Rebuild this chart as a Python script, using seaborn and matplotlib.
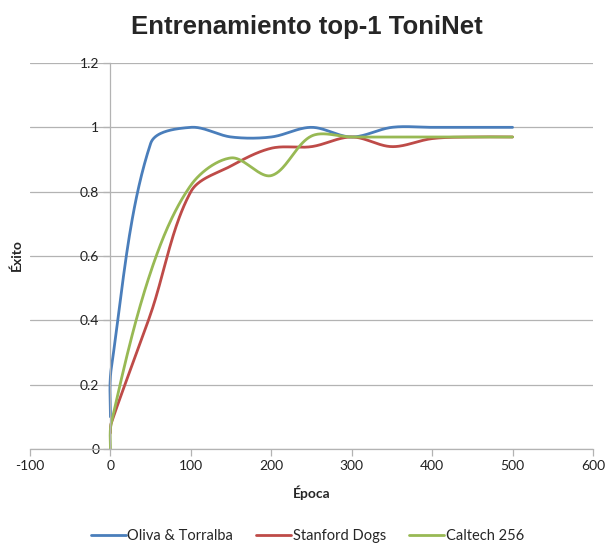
import numpy as np
import pandas as pd
import matplotlib
matplotlib.use("Agg")
import matplotlib.pyplot as plt
import seaborn as sns

epochs = [0, 1, 50, 100, 150, 200, 250, 300, 350, 400, 450, 500]
oliva = [0.10, 0.25, 0.95, 1.00, 0.97, 0.97, 1.00, 0.97, 1.00, 1.00, 1.00, 1.00]
stanford = [0.05, 0.08, 0.42, 0.80, 0.88, 0.935, 0.94, 0.97, 0.94, 0.965, 0.97, 0.97]
caltech = [0.00, 0.08, 0.55, 0.82, 0.905, 0.85, 0.973, 0.97, 0.97, 0.97, 0.97, 0.97]
series_names = ["Oliva & Torralba", "Stanford Dogs", "Caltech 256"]
colors = ["#4A7EBB", "#BE4B48", "#98B954"]

sns.set_style("white")
plt.rcParams["font.family"] = ["Lato", "DejaVu Sans"]

W, H = 605, 545
fig = plt.figure(figsize=(W / 100, H / 100), dpi=100)
ax = fig.add_axes([30 / W, 96 / H, 563 / W, 386 / H])
xmin, xmax, ymin, ymax = -100, 600, 0, 1.2
ax.set_xlim(xmin, xmax)
ax.set_ylim(ymin, ymax)

# pixel scale for smoothing in screen space (Excel-like)
sx = 563 / (xmax - xmin)
sy = 386 / (ymax - ymin)


def smooth(xs, ys, n=40):
    P = np.column_stack([np.array(xs, float) * sx, np.array(ys, float) * sy])
    m = len(P)
    d = np.linalg.norm(np.diff(P, axis=0), axis=1)
    T = np.zeros_like(P)
    T[0] = P[1] - P[0]
    T[-1] = P[-1] - P[-2]
    T[1:-1] = P[2:] - P[:-2]
    out = []
    for i in range(m - 1):
        dprev = d[i - 1] if i > 0 else d[i]
        dnext = d[i + 1] if i < m - 2 else d[i]
        if i == 0:
            c1 = P[i] + T[i] / 6
        else:
            c1 = P[i] + T[i] * d[i] / (dprev + d[i]) / 3
        if i == m - 2:
            c2 = P[i + 1] - T[i + 1] / 6
        else:
            c2 = P[i + 1] - T[i + 1] * d[i] / (d[i] + dnext) / 3
        t = np.linspace(0, 1, n, endpoint=(i == m - 2))[:, None]
        b = (1 - t) ** 3 * P[i] + 3 * (1 - t) ** 2 * t * c1 + 3 * (1 - t) * t ** 2 * c2 + t ** 3 * P[i + 1]
        out.append(b)
    out = np.vstack(out)
    return out[:, 0] / sx, out[:, 1] / sy


for name, vals, col in zip(series_names, [oliva, stanford, caltech], colors):
    cx, cy = smooth(epochs, vals)
    df = pd.DataFrame({"x": cx, "y": cy})
    sns.lineplot(data=df, x="x", y="y", sort=False, estimator=None, ax=ax,
                 color=col, linewidth=2.0, label=name)

grid_col = "#B3B3B3"
yt = np.round(np.arange(0, 1.21, 0.2), 1)
ax.set_yticks(yt)
ax.set_yticklabels([f"{v:g}" for v in yt])
xt = np.arange(-100, 601, 100)
ax.set_xticks(xt)
ax.set_xticklabels([f"{v:g}" for v in xt])
ax.yaxis.grid(True, color=grid_col, linewidth=0.9)
ax.xaxis.grid(False)
ax.set_axisbelow(True)

for s in ["top", "right"]:
    ax.spines[s].set_visible(False)
ax.spines["left"].set_position(("data", 0))
ax.spines["left"].set_color(grid_col)
ax.spines["bottom"].set_color(grid_col)
ax.spines["left"].set_linewidth(0.9)
ax.spines["bottom"].set_linewidth(0.9)
ax.tick_params(axis="both", which="both", length=5, width=0.9, color=grid_col,
               labelsize=10, labelcolor="#222222", pad=3,
               left=True, bottom=True)

ax.set_xlabel("Época", fontsize=10, fontweight="bold", labelpad=10)
ax.set_ylabel("")
fig.text(17 / W, 1 - 255 / H, "Éxito", rotation=90, fontsize=10, fontweight="bold",
         ha="center", va="center")

fig.text(0.508, 1 - 27 / H, "Entrenamiento top-1 ToniNet", fontsize=18.5, fontweight="bold",
         ha="center", va="center", family=["Liberation Sans", "DejaVu Sans"])

ax.get_legend().remove()
handles, labels = ax.get_legend_handles_labels()
fig.legend(handles, labels, loc="center", bbox_to_anchor=(0.508, 9 / H), ncol=3,
           frameon=False, handlelength=2.4, columnspacing=1.6, handletextpad=0.1,
           fontsize=10.5)

fig.savefig("out.png", dpi=100)
